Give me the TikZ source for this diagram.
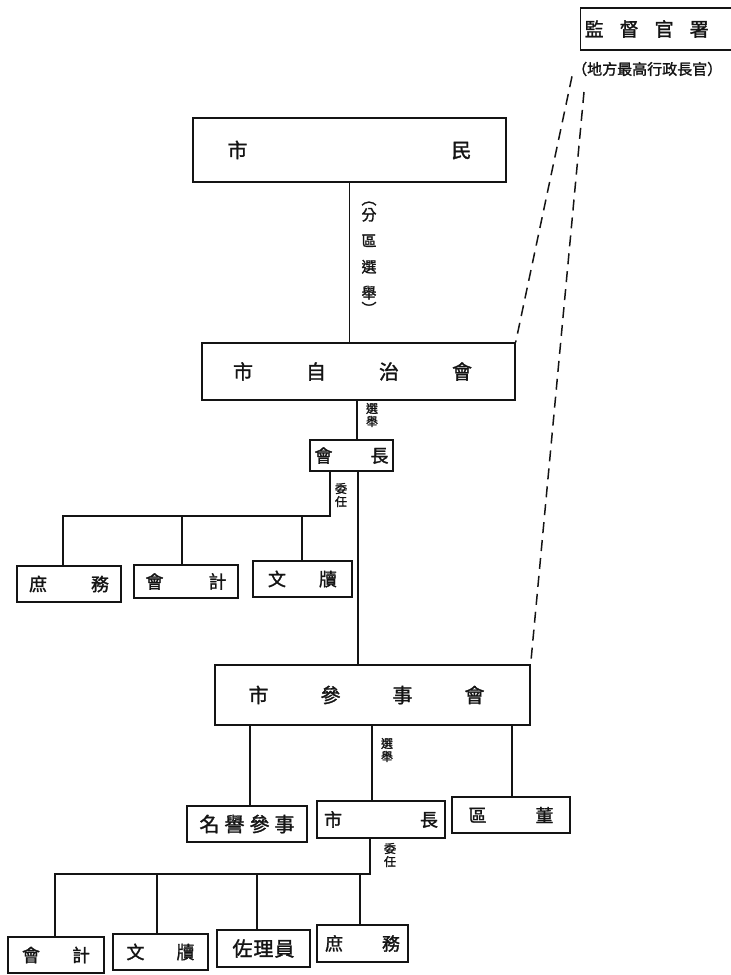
\documentclass[tikz,border=0pt]{standalone}
\usepackage{fontspec}
\newfontfamily\cjk{Noto Sans CJK TC}[FakeBold=1.5]
\definecolor{ink}{gray}{0.08}
\newcommand{\gapbox}[1]{\hbox to #1{}}
\begin{document}
\begin{tikzpicture}[x=1pt,y=-1pt,
  box/.style={draw=ink, line width=1.3pt, inner sep=0pt, text=ink, font=\cjk\fontsize{18}{18}\selectfont},
  big/.style={box, font=\cjk\fontsize{20}{20}\selectfont},
  conn/.style={draw=ink, line width=1.3pt},
  dashconn/.style={draw=ink, line width=1.5pt, dash pattern=on 11pt off 7pt},
  lab/.style={font=\cjk\fontsize{12}{13}\selectfont, align=center, inner sep=0pt, text=ink}]
\fill[white] (0,0) rectangle (731,975);
\useasboundingbox (0,0) rectangle (731,975);

% supervising office
\node[box, anchor=west, minimum height=42pt, inner xsep=4pt, font=\cjk\fontsize{19}{19}\selectfont] (jiandu) at (580,29) {監\hspace{16pt}督\hspace{16pt}官\hspace{16pt}署\gapbox{80pt}};
\node[anchor=west, inner sep=0pt, text=ink, font=\cjk\fontsize{15}{15}\selectfont] (difang) at (572,69) {（地方最高行政長官）};
\coordinate (d2) at (584,92);

% main column
\node[big, minimum width=313pt, minimum height=64pt] (shimin) at (349.5,150) {市\hspace{204pt}民};
\node[big, minimum width=313pt, minimum height=57pt] (zizhi) at (358.5,371.5) {市\hspace{53pt}自\hspace{53pt}治\hspace{53pt}會\gapbox{12pt}};
\node[box, minimum width=83pt, minimum height=31pt] (huizhang) at (351.5,455.5) {會\hspace{38pt}長};

\node[box, minimum width=104pt, minimum height=36pt] (shuwu1) at (69,584) {庶\hspace{44pt}務};
\node[box, minimum width=104pt, minimum height=33pt] (kuaiji1) at (186,581.5) {會\hspace{45pt}計};
\node[box, minimum width=99pt, minimum height=36pt] (wendu1) at (302.5,579) {文\hspace{33pt}牘};

\node[big, minimum width=315pt, minimum height=60pt] (canshi) at (372.5,695) {\raisebox{-5pt}{市\hspace{52pt}參\hspace{52pt}事\hspace{52pt}會}\gapbox{12pt}};

\node[box, minimum width=120pt, minimum height=36pt, font=\cjk\fontsize{20}{20}\selectfont] (mingyu) at (247,824) {名\hspace{5pt}譽\hspace{5pt}參\hspace{5pt}事};
\node[box, minimum width=128pt, minimum height=37pt] (shizhang) at (381,819.5) {市\hspace{78pt}長};
\node[box, minimum width=118pt, minimum height=36pt] (qudong) at (511,815) {區\hspace{49pt}董};

\node[box, minimum width=96pt, minimum height=36pt] (kuaiji2) at (56,955) {會\hspace{32pt}計};
\node[box, minimum width=95pt, minimum height=36pt] (wendu2) at (160.5,952) {文\hspace{32pt}牘};
\node[box, minimum width=93pt, minimum height=37pt, font=\cjk\fontsize{20}{20}\selectfont] (zuoli) at (263.5,948.5) {佐\hspace{1pt}理\hspace{1pt}員};
\node[box, minimum width=91pt, minimum height=37pt] (shuwu2) at (362.5,943.5) {庶\hspace{39pt}務};

% labels
\node[font=\cjk\fontsize{15}{15}\selectfont, align=center, inner sep=0pt, text=ink] (fenqu) at (369,258) {︵\\[1pt]分\\[11pt]區\\[11pt]選\\[11pt]舉\\[1pt]︶};
\node[lab] (xj1) at (372,415) {選\\舉};
\node[lab] (wr1) at (341,495) {委\\任};
\node[lab] (xj2) at (387,750) {選\\舉};
\node[lab] (wr2) at (390,855) {委\\任};

% connectors
\draw[conn] (shimin.south) -- (shimin.south |- zizhi.north);
\draw[conn] (zizhi.south -| 357,0) -- (huizhang.north -| 357,0);

\coordinate (b1r) at (330,516);
\coordinate (b1l) at (63,516);
\coordinate (b1a) at (182,516);
\coordinate (b1b) at (302,516);
\draw[conn] (huizhang.south -| b1r) -- (b1r) -- (b1l) -- (b1l |- shuwu1.north);
\draw[conn] (b1a) -- (b1a |- kuaiji1.north);
\draw[conn] (b1b) -- (b1b |- wendu1.north);
\draw[conn] (huizhang.south -| 358,0) -- (canshi.north -| 358,0);

\draw[conn] (canshi.south -| 250,0) -- (mingyu.north -| 250,0);
\draw[conn] (canshi.south -| 372,0) -- (shizhang.north -| 372,0);
\draw[conn] (canshi.south -| 512,0) -- (qudong.north -| 512,0);

\coordinate (b2r) at (370,874);
\coordinate (b2l) at (55,874);
\coordinate (b2a) at (157,874);
\coordinate (b2b) at (257,874);
\coordinate (b2c) at (360,874);
\draw[conn] (shizhang.south -| b2r) -- (b2r) -- (b2l) -- (b2l |- kuaiji2.north);
\draw[conn] (b2a) -- (b2a |- wendu2.north);
\draw[conn] (b2b) -- (b2b |- zuoli.north);
\draw[conn] (b2c) -- (b2c |- shuwu2.north);

\draw[dashconn] (difang.south west) -- (zizhi.north east);
\draw[dashconn] (d2) -- (canshi.north east);
\end{tikzpicture}
\end{document}
